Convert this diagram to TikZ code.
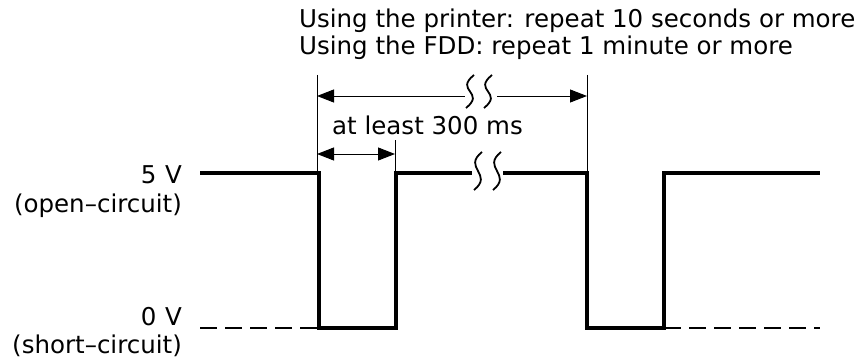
\documentclass[tikz,border=0pt]{standalone}
\usepackage{fontspec}
\setmainfont{DejaVu Sans}
\usetikzlibrary{arrows.meta}

% wavy break mark: x, top y, bottom y
\newcommand{\breakmark}[3]{%
  \draw[line width=1.8pt] (#1+8,#2) .. controls (#1-12,#2+16) and (#1+20,#3-16) .. (#1,#3);}

\begin{document}
\begin{tikzpicture}[x=1pt,y=-1pt,
    >={Triangle[length=17pt,width=13pt]},
    wave/.style={line width=4.5pt},
    lowdash/.style={line width=1.5pt,dash pattern=on 17pt off 8pt},
    extline/.style={line width=1pt},
    dimline/.style={line width=1pt},
    txt/.style={inner sep=0pt,font=\fontsize{24.5}{29}\selectfont}]
\useasboundingbox (0,0) rectangle (865,361);

% corners of the signal
\coordinate (start) at (200,173);
\coordinate (fallA) at (319,173);
\coordinate (lowA) at (319,328);
\coordinate (lowB) at (396,328);
\coordinate (riseA) at (396,173);
\coordinate (gapL) at (472,173);
\coordinate (gapR) at (503,173);
\coordinate (fallB) at (587,173);
\coordinate (lowC) at (587,328);
\coordinate (lowD) at (664,328);
\coordinate (riseB) at (664,173);
\coordinate (stop) at (820,173);
\coordinate (zeroL) at (200,328);
\coordinate (zeroR) at (820,328);

% signal
\draw[wave] (start) -- (fallA) -- (lowA) -- (lowB) -- (riseA) -- (gapL);
\draw[wave] (gapR) -- (fallB) -- (lowC) -- (lowD) -- (riseB) -- (stop);
\breakmark{474}{152}{190}
\breakmark{493}{152}{190}

% 0 V level
\draw[lowdash] (zeroL) -- (lowA);
\draw[lowdash] (lowD) -- (zeroR);

% extension lines
\coordinate (extA) at (317,75);
\coordinate (extB) at (587,75);
\coordinate (extC) at (395,140);
\draw[extline] (extA) -- (317,173);
\draw[extline] (extB) -- (fallB);
\draw[extline] (extC) -- (395,173);

% repeat period
\coordinate (perL) at (317,96);
\coordinate (perM) at (465,96);
\coordinate (perN) at (497,96);
\coordinate (perR) at (587,96);
\draw[dimline,<-] (perL) -- (perM);
\draw[dimline,->] (perN) -- (perR);
\breakmark{466}{75}{108}
\breakmark{484}{75}{108}

% 300 ms
\coordinate (pulL) at (317,154);
\coordinate (pulR) at (395,154);
\draw[dimline,<->] (pulL) -- (pulR);

% labels
\node[txt,anchor=base west] (printer) at (299,28) {Using the printer: repeat 10 seconds or more};
\node[txt,anchor=base west] (fdd) at (299,55) {Using the FDD: repeat 1 minute or more};
\node[txt,anchor=base west] (least) at (332,134) {at least 300 ms};
\node[txt,anchor=base east] (high) at (182,183) {5\hspace{0.35em}V};
\node[txt,anchor=base east] (open) at (182,212) {(open–circuit)};
\node[txt,anchor=base east] (low) at (182,325) {0\hspace{0.35em}V};
\node[txt,anchor=base east] (short) at (182,353) {(short–circuit)};
\end{tikzpicture}
\end{document}
